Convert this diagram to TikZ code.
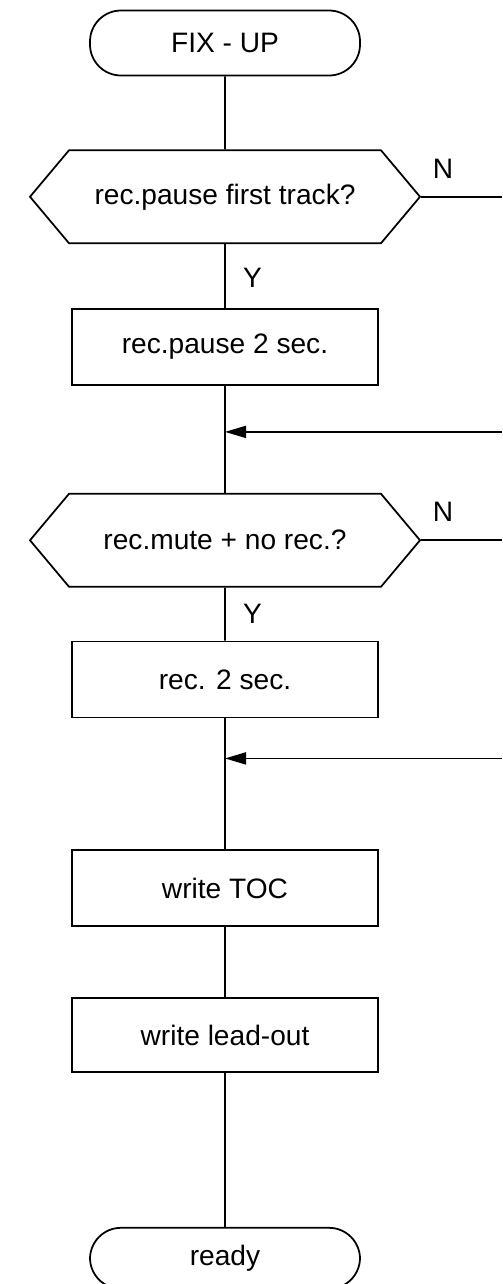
\documentclass[tikz,border=0pt]{standalone}
\usepackage{fontspec}
\setmainfont{Liberation Sans}
\usetikzlibrary{shapes.symbols, arrows.meta, positioning}

\begin{document}
\begin{tikzpicture}[line width=1pt, every node/.style={font=\fontsize{16}{19}\selectfont},
    terminal/.style={draw, rounded corners=0.62cm, minimum width=5.4cm, minimum height=1.3cm},
    decision/.style={draw, signal, signal to=west and east, signal pointer angle=100, minimum width=7.8cm, minimum height=1.86cm},
    process/.style={draw, minimum width=6.12cm, minimum height=1.52cm},
    merge/.style={-{Triangle[length=0.42cm, width=0.24cm]}}]
    \useasboundingbox (0,0) rectangle (10.04,-25.68);
    \coordinate (edge) at (10.04,0);

    \node[terminal] (fixup) at (4.5,-0.86) {FIX - UP};
    \node[decision, below=1.46cm of fixup] (firsttrack) {rec.pause first track?};
    \node[process, below=1.28cm of firsttrack] (pause) {rec.pause 2 sec.};
    \node[decision, below=2.14cm of pause] (mute) {rec.mute + no rec.?};
    \node[process, below=1.06cm of mute] (rec) {rec. 2 sec.};
    \node[process, below=2.62cm of rec] (toc) {write TOC};
    \node[process, minimum height=1.48cm, below=1.40cm of toc] (leadout) {write lead-out};
    \node[terminal, minimum height=1.22cm, below=3.08cm of leadout] (ready) {ready};

    % Y / N labels
    \node (n1) at ([xshift=0.44cm, yshift=0.56cm]firsttrack.east) {N};
    \node (y1) at ([xshift=0.55cm, yshift=-0.67cm]firsttrack.south) {Y};
    \node (n2) at ([xshift=0.44cm, yshift=0.56cm]mute.east) {N};
    \node (y2) at ([xshift=0.55cm, yshift=-0.53cm]mute.south) {Y};

    \coordinate[below=0.92cm of pause] (join1);
    \coordinate[below=0.80cm of rec] (join2);
    \coordinate (out1) at (firsttrack.east -| edge);
    \coordinate (out2) at (mute.east -| edge);
    \coordinate (back1) at (join1 -| edge);
    \coordinate (back2) at (join2 -| edge);

    \draw (fixup) -- (firsttrack);
    \draw (firsttrack) -- (pause);
    \draw (pause) -- (mute);
    \draw (mute) -- (rec);
    \draw (rec) -- (toc);
    \draw (toc) -- (leadout);
    \draw (leadout) -- (ready);
    \draw (firsttrack.east) -- (out1);
    \draw (mute.east) -- (out2);
    \draw[merge] (back1) -- (join1);
    \draw[merge] (back2) -- (join2);
\end{tikzpicture}
\end{document}
